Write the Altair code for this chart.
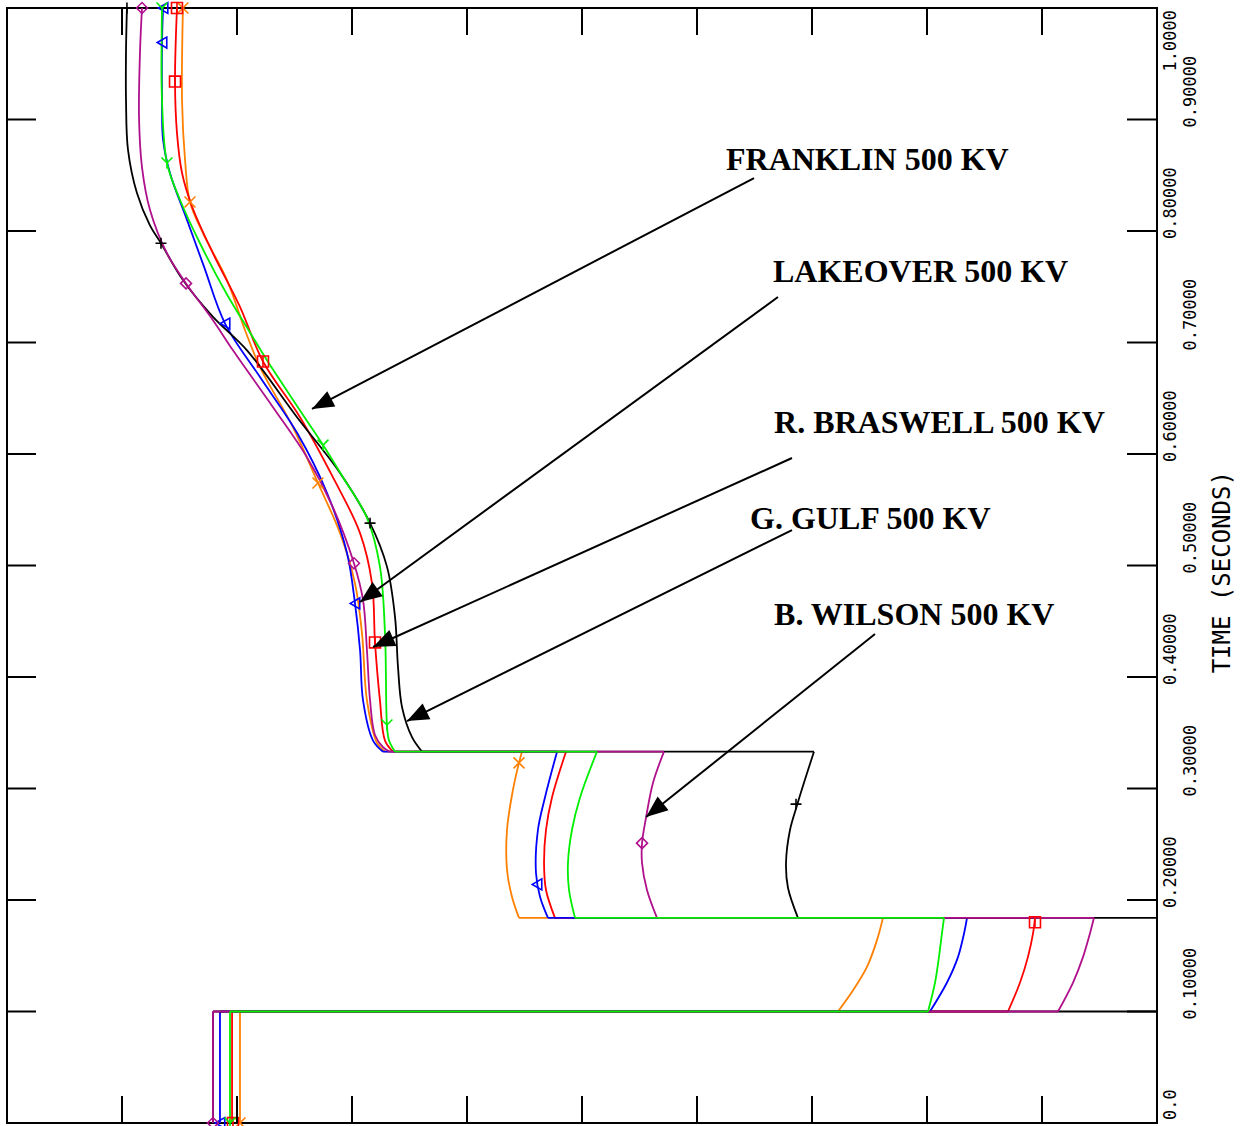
import math
import altair as alt
import pandas as pd

# ---------------- data (time in seconds on the vertical axis, value on the horizontal axis) ----------------
black_t = [0.000, 0.100, 0.100, 0.184, 0.184, 0.211, 0.233, 0.263, 0.285, 0.308, 0.333, 0.333, 0.346, 0.373,
           0.409, 0.454, 0.499, 0.538, 0.583, 0.633, 0.693, 0.723, 0.756, 0.789, 0.805, 0.834, 0.873, 0.917, 0.962, 1.000]
black_x = [1.791, 1.791, 10.90, 11.20, 6.878, 6.791, 6.774, 6.809, 6.870, 6.939, 7.017, 3.609, 3.522, 3.435,
           3.400, 3.374, 3.304, 3.157, 2.896, 2.522, 2.087, 1.791, 1.530, 1.339, 1.243, 1.130, 1.052, 1.035, 1.035, 1.043]

purple_t = [0.000, 0.100, 0.100, 0.126, 0.149, 0.170, 0.184, 0.184, 0.209, 0.233, 0.251, 0.274, 0.305, 0.333, 0.333,
            0.337, 0.348, 0.379, 0.424, 0.469, 0.502, 0.552, 0.597, 0.642, 0.693, 0.720, 0.753, 0.780, 0.819, 0.857,
            0.902, 0.962, 1.000]
purple_x = [1.791, 1.791, 9.139, 9.270, 9.357, 9.417, 9.452, 5.652, 5.565, 5.522, 5.522, 5.557, 5.617, 5.713, 3.330,
            3.270, 3.200, 3.157, 3.130, 3.096, 3.017, 2.835, 2.609, 2.313, 1.965, 1.791, 1.557, 1.391, 1.243, 1.174,
            1.148, 1.157, 1.174]

blue_t = [0.000, 0.100, 0.100, 0.126, 0.149, 0.170, 0.184, 0.184, 0.203, 0.224, 0.263, 0.292, 0.333, 0.333, 0.343,
          0.379, 0.424, 0.466, 0.511, 0.565, 0.619, 0.669, 0.717, 0.768, 0.810, 0.852, 0.882, 0.917, 0.969, 1.000]
blue_x = [1.852, 1.852, 8.026, 8.174, 8.270, 8.322, 8.348, 4.704, 4.635, 4.600, 4.617, 4.678, 4.783, 3.270, 3.183,
          3.096, 3.070, 3.026, 2.957, 2.783, 2.522, 2.200, 1.896, 1.713, 1.565, 1.417, 1.357, 1.348, 1.348, 1.357]

green_t = [0.000, 0.100, 0.100, 0.126, 0.149, 0.170, 0.184, 0.184, 0.209, 0.233, 0.263, 0.292, 0.333, 0.333, 0.343,
           0.357, 0.439, 0.499, 0.543, 0.579, 0.608, 0.639, 0.684, 0.709, 0.743, 0.789, 0.828, 0.861, 0.917, 1.000]
green_x = [1.939, 1.939, 8.009, 8.070, 8.104, 8.130, 8.148, 4.939, 4.887, 4.878, 4.913, 4.983, 5.130, 3.374, 3.322,
           3.304, 3.287, 3.243, 3.130, 2.922, 2.748, 2.548, 2.261, 2.113, 1.913, 1.678, 1.504, 1.391, 1.348, 1.348]

red_t = [0.000, 0.100, 0.100, 0.126, 0.149, 0.170, 0.184, 0.184, 0.209, 0.233, 0.263, 0.292, 0.333, 0.333, 0.343,
         0.379, 0.431, 0.484, 0.529, 0.579, 0.633, 0.683, 0.732, 0.780, 0.822, 0.852, 0.888, 0.934, 1.000]
red_x = [1.957, 1.957, 8.704, 8.809, 8.878, 8.922, 8.939, 4.765, 4.687, 4.670, 4.687, 4.739, 4.861, 3.357, 3.287,
         3.243, 3.200, 3.174, 3.070, 2.835, 2.548, 2.226, 2.026, 1.791, 1.609, 1.522, 1.478, 1.461, 1.478]

orange_t = [0.000, 0.100, 0.100, 0.119, 0.140, 0.164, 0.184, 0.184, 0.203, 0.227, 0.263, 0.299, 0.323, 0.333, 0.333,
            0.341, 0.379, 0.439, 0.484, 0.529, 0.574, 0.624, 0.678, 0.711, 0.756, 0.798, 0.826, 0.864, 0.917, 1.000]
orange_x = [2.026, 2.026, 7.226, 7.357, 7.478, 7.565, 7.617, 4.452, 4.391, 4.348, 4.348, 4.400, 4.452, 4.478, 3.287,
            3.217, 3.130, 3.087, 3.026, 2.896, 2.704, 2.487, 2.200, 2.070, 1.913, 1.704, 1.591, 1.548, 1.522, 1.530]

# symbol markers placed along each curve
black_mt = [1.000, 0.789, 0.538, 0.286]
black_mx = [1.043, 1.339, 3.157, 6.861]
purple_mt = [1.000, 0.753, 0.502, 0.251, 0.000]
purple_mx = [1.174, 1.557, 3.017, 5.522, 1.791]
blue_mt = [1.000, 0.969, 0.717, 0.466, 0.214, 0.000]
blue_mx = [1.357, 1.348, 1.896, 3.026, 4.609, 1.852]
green_mt = [1.000, 0.861, 0.608, 0.357, 0.000]
green_mx = [1.348, 1.391, 2.748, 3.304, 1.939]
red_mt = [1.000, 0.934, 0.683, 0.431, 0.180, 0.000]
red_mx = [1.478, 1.461, 2.226, 3.200, 8.939, 1.965]
orange_mt = [1.000, 0.826, 0.574, 0.323, 0.000]
orange_mx = [1.530, 1.591, 2.704, 4.452, 2.026]

# annotations
ann_text = ["FRANKLIN 500 KV", "LAKEOVER 500 KV", "R. BRASWELL 500 KV", "G. GULF 500 KV", "B. WILSON 500 KV"]
ann_text_x = [6.252, 6.661, 6.670, 6.461, 6.670]
ann_text_t = [0.8547, 0.7543, 0.6188, 0.5327, 0.4466]
arrow_x0 = [6.496, 6.704, 6.826, 6.826, 7.548]
arrow_t0 = [0.8475, 0.7408, 0.5964, 0.5318, 0.4386]
arrow_x1 = [2.652, 3.070, 3.183, 3.478, 5.557]
arrow_t1 = [0.6404, 0.4673, 0.4269, 0.3605, 0.2744]

# axis ticks and labels
x_ticks = [1, 2, 3, 4, 5, 6, 7, 8, 9]
t_ticks = [0.1, 0.2, 0.3, 0.4, 0.5, 0.6, 0.7, 0.8, 0.9]
t_label_vals = [0.1, 0.2, 0.3, 0.4, 0.5, 0.6, 0.7, 0.8, 0.9]
t_label_text = ["0.10000", "0.20000", "0.30000", "0.40000", "0.50000", "0.60000", "0.70000", "0.80000", "0.90000"]
t_bottom_val = [0.0]
t_bottom_text = ["0.0"]
t_top_val = [1.0]
t_top_text = ["1.0000"]
axis_title = ["TIME  (SECONDS)"]
axis_title_t = [0.494]

# ---------------- chart ----------------
W, H = 1150, 1115
X_MAX, T_MAX = 10.0, 1.0
xs = alt.Scale(domain=[0, X_MAX], nice=False, zero=False)
ys = alt.Scale(domain=[0, T_MAX], nice=False, zero=False)

series = [
    ("orange", "#ff8000", orange_t, orange_x, orange_mt, orange_mx, "M-1,-1L1,1M-1,1L1,-1"),
    ("red", "#ff0000", red_t, red_x, red_mt, red_mx, "M-1,-1L1,-1L1,1L-1,1ZM0,-1L0,1"),
    ("blue", "#0000ff", blue_t, blue_x, blue_mt, blue_mx, "triangle-left"),
    ("black", "#000000", black_t, black_x, black_mt, black_mx, "M-1,0L1,0M0,-1L0,1"),
    ("purple", "#b0108c", purple_t, purple_x, purple_mt, purple_mx, "diamond"),
    ("green", "#00ee00", green_t, green_x, green_mt, green_mx, "M-1,-1L0,0L1,-1M0,0L0,1"),
]


def split_segments(tt, xx):
    """Split a trace into continuous pieces; jumps (same time, new value) become 2-point pieces."""
    rows = []
    seg = 0
    k = 0
    rows.append((seg, k, tt[0], xx[0]))
    for i in range(1, len(tt)):
        if tt[i] == tt[i - 1]:
            seg += 1
            rows.append((seg, 0, tt[i - 1], xx[i - 1]))
            rows.append((seg, 1, tt[i], xx[i]))
            seg += 1
            k = 0
            rows.append((seg, k, tt[i], xx[i]))
        else:
            k += 1
            rows.append((seg, k, tt[i], xx[i]))
    return pd.DataFrame(rows, columns=["seg", "i", "t", "x"])


layers = []
for name, col, tt, xx, mt, mx, shp in series:
    df = split_segments(tt, xx)
    layers.append(
        alt.Chart(df).mark_line(color=col, strokeWidth=1.8, clip=True, interpolate="catmull-rom").encode(
            x=alt.X("x:Q", scale=xs, axis=None),
            y=alt.Y("t:Q", scale=ys, axis=None),
            detail="seg:N",
            order="i:Q",
        )
    )
for name, col, tt, xx, mt, mx, shp in series:
    dm = pd.DataFrame({"t": mt, "x": mx})
    layers.append(
        alt.Chart(dm).mark_point(shape=shp, color=col, filled=False, size=120, strokeWidth=1.6,
                                 opacity=1).encode(
            x=alt.X("x:Q", scale=xs, axis=None),
            y=alt.Y("t:Q", scale=ys, axis=None),
        )
    )

# arrows
ang = [math.degrees(math.atan2((x1 - x0) * W / X_MAX, (t1 - t0) * H / T_MAX)) % 360
       for x0, t0, x1, t1 in zip(arrow_x0, arrow_t0, arrow_x1, arrow_t1)]
da = pd.DataFrame({"x0": arrow_x0, "t0": arrow_t0, "x1": arrow_x1, "t1": arrow_t1, "ang": ang})
layers.append(
    alt.Chart(da).mark_rule(color="black", strokeWidth=2).encode(
        x=alt.X("x0:Q", scale=xs, axis=None), y=alt.Y("t0:Q", scale=ys, axis=None),
        x2="x1:Q", y2="t1:Q",
    )
)
layers.append(
    alt.Chart(da).mark_point(shape="M0,0L-0.4,1L0.4,1Z", filled=True, color="black", size=1900, opacity=1).encode(
        x=alt.X("x1:Q", scale=xs, axis=None), y=alt.Y("t1:Q", scale=ys, axis=None),
        angle=alt.Angle("ang:Q", scale=None),
    )
)
dt = pd.DataFrame({"label": ann_text, "x": ann_text_x, "t": ann_text_t})
layers.append(
    alt.Chart(dt).mark_text(font="Liberation Serif", fontWeight="bold", fontSize=32, align="left",
                            baseline="alphabetic", color="black").encode(
        x=alt.X("x:Q", scale=xs, axis=None), y=alt.Y("t:Q", scale=ys, axis=None), text="label:N",
    )
)

# ticks (inward) on all four sides
dxt = pd.DataFrame({"x": x_ticks})
dtt = pd.DataFrame({"t": t_ticks})
layers.append(alt.Chart(dxt).mark_rule(color="black", strokeWidth=2).encode(
    x=alt.X("x:Q", scale=xs, axis=None), y=alt.value(0), y2=alt.value(27)))
layers.append(alt.Chart(dxt).mark_rule(color="black", strokeWidth=2).encode(
    x=alt.X("x:Q", scale=xs, axis=None), y=alt.value(H - 27), y2=alt.value(H)))
layers.append(alt.Chart(dtt).mark_rule(color="black", strokeWidth=2).encode(
    y=alt.Y("t:Q", scale=ys, axis=None), x=alt.value(0), x2=alt.value(29)))
layers.append(alt.Chart(dtt).mark_rule(color="black", strokeWidth=2).encode(
    y=alt.Y("t:Q", scale=ys, axis=None), x=alt.value(W - 30), x2=alt.value(W)))

# right-hand time labels, alternating in two columns
dl = pd.DataFrame({"t": t_label_vals, "label": t_label_text})
dl["col"] = [(i + 1) % 2 for i in range(len(dl))]
lab_font = dict(font="DejaVu Sans Mono", fontSize=17, angle=270, baseline="top", color="black")
layers.append(alt.Chart(dl[dl.col == 0]).mark_text(align="left", dx=-8, **lab_font).encode(
    y=alt.Y("t:Q", scale=ys, axis=None), x=alt.value(W + 6), text="label:N"))
layers.append(alt.Chart(dl[dl.col == 1]).mark_text(align="left", dx=-8, **lab_font).encode(
    y=alt.Y("t:Q", scale=ys, axis=None), x=alt.value(W + 26), text="label:N"))
dbot = pd.DataFrame({"t": t_bottom_val, "label": t_bottom_text})
layers.append(alt.Chart(dbot).mark_text(align="left", dx=3, **lab_font).encode(
    y=alt.Y("t:Q", scale=ys, axis=None), x=alt.value(W + 6), text="label:N"))
dtop = pd.DataFrame({"t": t_top_val, "label": t_top_text})
layers.append(alt.Chart(dtop).mark_text(align="right", dx=-2, **lab_font).encode(
    y=alt.Y("t:Q", scale=ys, axis=None), x=alt.value(W + 6), text="label:N"))
dtitle = pd.DataFrame({"t": axis_title_t, "label": axis_title})
layers.append(alt.Chart(dtitle).mark_text(font="DejaVu Sans Mono", fontSize=24, angle=270, baseline="top",
                                          align="center", color="black").encode(
    y=alt.Y("t:Q", scale=ys, axis=None), x=alt.value(W + 54), text="label:N"))

chart = alt.layer(*layers).properties(
    width=W, height=H,
    padding={"left": 7, "top": 8, "right": 84, "bottom": 3},
    autosize=alt.AutoSizeParams(type="none"),
    background="white",
).configure_view(stroke="black", strokeWidth=2)

chart.save("out.html", embed_options={"renderer": "svg", "actions": False})
